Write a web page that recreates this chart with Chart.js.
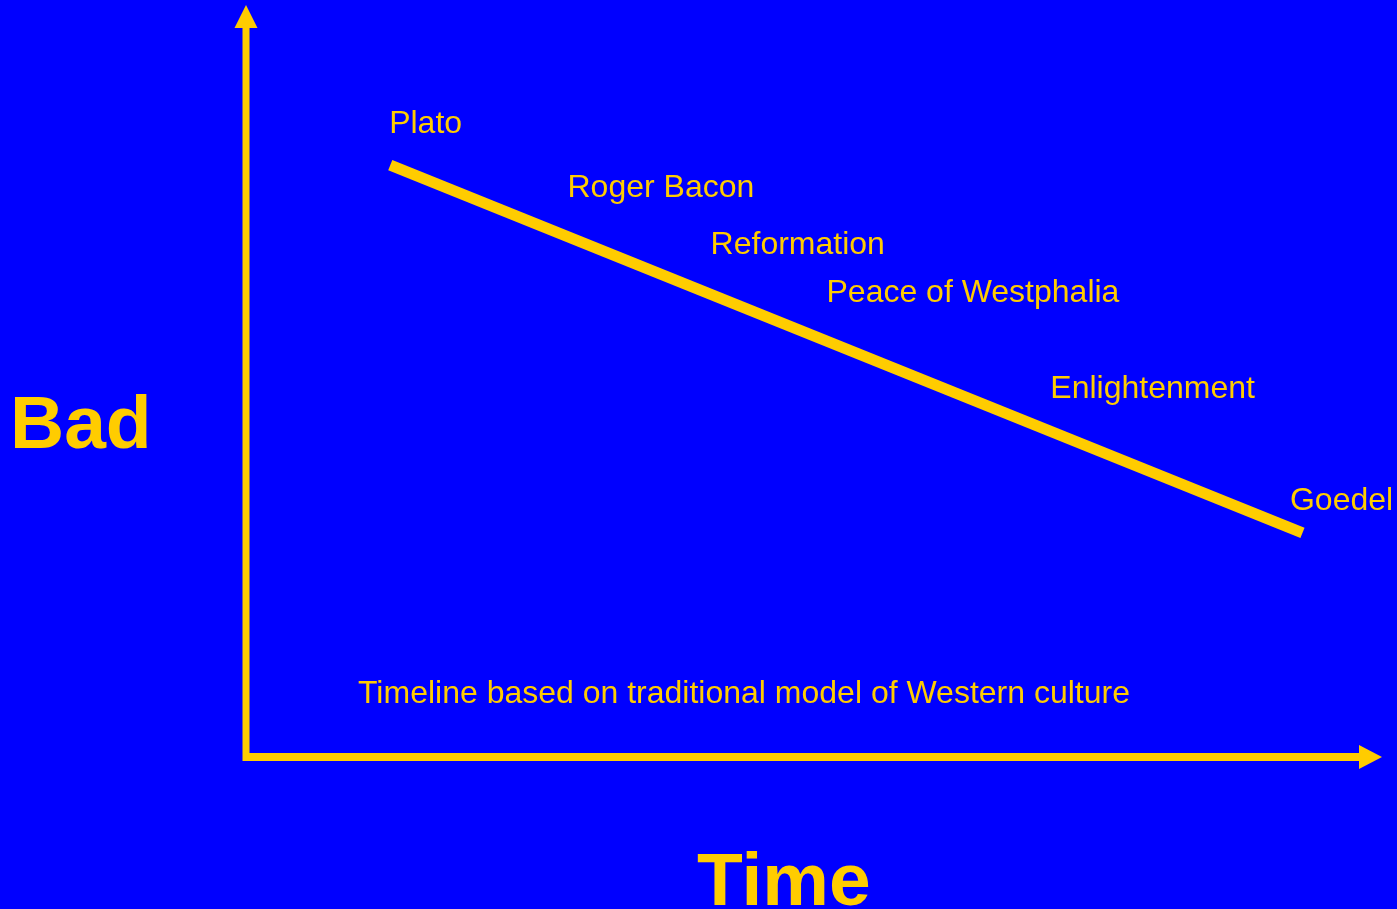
<!DOCTYPE html>
<html lang="en">
<head>
  <meta charset="UTF-8" />
  <title>Timeline</title>
  <script src="https://cdn.jsdelivr.net/npm/chart.js"></script>
  <style>
    * {
      margin: 0;
      padding: 0;
      box-sizing: border-box;
    }

    body {
      background-color: #0000ff;
      overflow: hidden;
    }

    .wrap {
      width: 1397px;
      height: 909px;
      position: relative;
    }
  </style>
</head>
<body>

  <div class="wrap">
    <canvas id="timeChart"></canvas>
  </div>

  <script>
    // Trend line (time on x, badness on y, 0-100 units)
    const trendX = [12.7, 93.0];
    const trendY = [78.7, 29.8];

    // Era labels, placed in the same units
    const eraNames = ['Plato', 'Roger Bacon', 'Reformation', 'Peace of Westphalia', 'Enlightenment', 'Goedel'];
    const eraX = [12.6, 28.3, 40.9, 51.1, 70.8, 91.9];
    const eraY = [83.0, 74.5, 66.9, 60.5, 47.7, 32.9];

    const yAxisTitle = 'Bad';
    const xAxisTitle = 'Time';
    const note = 'Timeline based on traditional model of Western culture';

    const YELLOW = '#ffcc00';
    const FONT = '"Liberation Sans", Arial, sans-serif';

    // Axes with arrowheads plus all the text
    const decorations = {
      id: 'decorations',
      afterDraw(chart) {
        const ctx = chart.ctx;
        const { left, right, top, bottom } = chart.chartArea;
        const xs = chart.scales.x;
        const ys = chart.scales.y;

        ctx.save();
        ctx.fillStyle = YELLOW;

        // y axis
        ctx.fillRect(left - 3.5, top + 22, 7, bottom - top - 18);
        ctx.beginPath();
        ctx.moveTo(left, top);
        ctx.lineTo(left - 11.5, top + 23);
        ctx.lineTo(left + 11.5, top + 23);
        ctx.closePath();
        ctx.fill();

        // x axis
        ctx.fillRect(left - 3, bottom - 4, right - left - 20, 8);
        ctx.beginPath();
        ctx.moveTo(right, bottom);
        ctx.lineTo(right - 23, bottom - 12);
        ctx.lineTo(right - 23, bottom + 12);
        ctx.closePath();
        ctx.fill();

        // era labels
        ctx.font = '32px ' + FONT;
        ctx.textAlign = 'left';
        ctx.textBaseline = 'alphabetic';
        eraNames.forEach((name, i) => {
          ctx.fillText(name, xs.getPixelForValue(eraX[i]), ys.getPixelForValue(eraY[i]));
        });

        ctx.fillText(note, 358, 703);

        // axis titles
        ctx.font = 'bold 75px ' + FONT;
        ctx.fillText(yAxisTitle, 10, 448);
        ctx.fillText(xAxisTitle, 697, 905);

        ctx.restore();
      }
    };

    const ctx = document.getElementById('timeChart').getContext('2d');
    new Chart(ctx, {
      type: 'line',
      data: {
        datasets: [{
          data: trendX.map((x, i) => ({ x: x, y: trendY[i] })),
          borderColor: YELLOW,
          borderWidth: 11,
          borderCapStyle: 'butt',
          pointRadius: 0,
          fill: false,
          tension: 0
        }]
      },
      options: {
        responsive: true,
        maintainAspectRatio: false,
        animation: false,
        layout: {
          padding: { left: 246, right: 15, top: 5, bottom: 152 }
        },
        plugins: {
          legend: { display: false },
          tooltip: { enabled: false }
        },
        scales: {
          x: { type: 'linear', min: 0, max: 100, display: false },
          y: { type: 'linear', min: 0, max: 100, display: false }
        }
      },
      plugins: [decorations]
    });
  </script>

</body>
</html>
